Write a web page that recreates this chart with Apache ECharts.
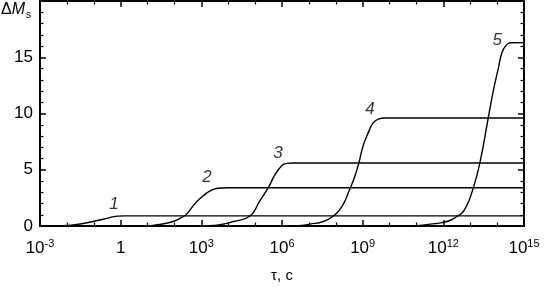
<!DOCTYPE html>
<html>
<head>
<meta charset="utf-8">
<script src="https://cdn.jsdelivr.net/npm/echarts@6/dist/echarts.min.js"></script>
<style>html,body{margin:0;padding:0;background:#fff}#c{width:551px;height:288px}</style>
</head>
<body>
<div id="c"></div>
<script>
// x values are log10(tau, s)
const xTickExponents = [-3, 0, 3, 6, 9, 12, 15];
const yTicks = [0, 5, 10, 15];

const curve1Tau = [-3, -2.2, -1.7, -1.03, -0.4, -0.1, 0.16, 0.5, 15];
const curve1Val = [0, 0.02, 0.11, 0.40, 0.75, 0.88, 0.9, 0.9, 0.9];

const curve2Tau = [-3, 1.0, 1.35, 1.95, 2.32, 2.47, 2.76, 3.07, 3.38, 3.62, 4.0, 15];
const curve2Val = [0, 0.02, 0.11, 0.40, 0.83, 1.1, 1.97, 2.69, 3.18, 3.36, 3.4, 3.4];

const curve3Tau = [-3, 3.3, 3.69, 4.19, 4.81, 5.18, 5.49, 5.74, 5.99, 6.17, 6.41, 7, 15];
const curve3Val = [0, 0.02, 0.11, 0.40, 0.89, 2.26, 3.41, 4.56, 5.36, 5.57, 5.6, 5.6, 5.6];

const curve4Tau = [-3, 6.6, 7.04, 7.54, 7.91, 8.22, 8.53, 8.71, 8.86, 9.02, 9.21, 9.39, 9.58, 9.83, 15];
const curve4Val = [0, 0.02, 0.17, 0.40, 0.89, 1.69, 3.33, 4.42, 5.63, 7.16, 8.30, 9.16, 9.5, 9.6, 9.6];

const curve5Tau = [-3, 11.0, 11.5, 12.0, 12.5, 12.81, 13.11, 13.36, 13.67, 13.86, 14.05, 14.17, 14.33, 14.5, 15];
const curve5Val = [0, 0.02, 0.17, 0.32, 0.83, 1.55, 3.36, 5.63, 9.6, 12.04, 14.05, 15.34, 16.06, 16.29, 16.3];

const curveLabels = ['1', '2', '3', '4', '5'];
const labelTau = [-0.25, 3.21, 5.85, 9.27, 14.0];
const labelVal = [1.9, 4.31, 6.47, 10.34, 16.47];

const FONT = "'Liberation Sans', Arial, sans-serif";
const zip = (a, b) => a.map((v, i) => [v, b[i]]);

const curves = [
  zip(curve1Tau, curve1Val),
  zip(curve2Tau, curve2Val),
  zip(curve3Tau, curve3Val),
  zip(curve4Tau, curve4Val),
  zip(curve5Tau, curve5Val)
];

const axisCommon = {
  axisLine: { show: true, onZero: false, lineStyle: { color: '#000', width: 2 } },
  axisTick: { show: true, inside: true, length: 6, lineStyle: { color: '#000', width: 1.5 } },
  minorTick: { show: true, length: 3.5, lineStyle: { color: '#000', width: 1.2 } },
  splitLine: { show: false }
};

const xFmt = v => v === 0 ? '{b|1}' : '{b|10}{s|' + v + '}';

const chart = echarts.init(document.getElementById('c'), null, { renderer: 'canvas' });
chart.setOption({
  animation: false,
  backgroundColor: '#fff',
  grid: { left: 40, right: 27, top: 1, bottom: 55 },
  xAxis: [
    Object.assign({}, axisCommon, {
      type: 'value', min: xTickExponents[0], max: xTickExponents[xTickExponents.length - 1], interval: 3,
      minorTick: Object.assign({}, axisCommon.minorTick, { splitNumber: 3 }),
      axisLabel: {
        margin: 12, formatter: xFmt, color: '#000',
        rich: {
          b: { fontSize: 17, fontFamily: FONT, color: '#000', lineHeight: 20 },
          s: { fontSize: 11, fontFamily: FONT, color: '#000', verticalAlign: 'top', lineHeight: 12, padding: [0, 0, 8, 0] }
        }
      },
      name: 'τ, с', nameLocation: 'middle', nameGap: 42,
      nameTextStyle: { fontSize: 15, fontFamily: FONT, color: '#000' }
    }),
    Object.assign({}, axisCommon, {
      type: 'value', position: 'top', min: -3, max: 15, interval: 3,
      minorTick: Object.assign({}, axisCommon.minorTick, { splitNumber: 3 }),
      axisLabel: { show: false }
    })
  ],
  yAxis: [
    Object.assign({}, axisCommon, {
      type: 'value', min: 0, max: 20, interval: 5,
      minorTick: Object.assign({}, axisCommon.minorTick, { splitNumber: 5 }),
      axisLabel: {
        margin: 7, fontSize: 17, fontFamily: FONT, color: '#000',
        formatter: v => yTicks.indexOf(v) >= 0 ? String(v) : ''
      }
    }),
    Object.assign({}, axisCommon, {
      type: 'value', position: 'right', min: 0, max: 20, interval: 5,
      minorTick: Object.assign({}, axisCommon.minorTick, { splitNumber: 5 }),
      axisLabel: { show: false }
    })
  ],
  graphic: [{
    type: 'text', left: 1, top: 2,
    style: {
      rich: {
        d: { fontSize: 16, fontFamily: FONT, fill: '#000' },
        m: { fontSize: 16, fontFamily: FONT, fontStyle: 'italic', fill: '#000' },
        s: { fontSize: 10, fontFamily: FONT, fill: '#000', padding: [10, 0, 0, 1] }
      },
      text: '{d|Δ}{m|M}{s|s}'
    }
  }],
  series: curves.map(d => ({
    type: 'line', data: d, showSymbol: false, smooth: 0.5,
    lineStyle: { color: '#000', width: 1.4 }, silent: true
  })).concat([{
    type: 'scatter', symbolSize: 1, itemStyle: { color: 'rgba(0,0,0,0)' }, silent: true,
    data: labelTau.map((t, i) => [t, labelVal[i], curveLabels[i]]),
    label: {
      show: true, position: 'inside', formatter: p => p.data[2],
      fontSize: 17, fontStyle: 'italic', fontFamily: FONT, color: '#000'
    }
  }])
});
</script>
</body>
</html>
